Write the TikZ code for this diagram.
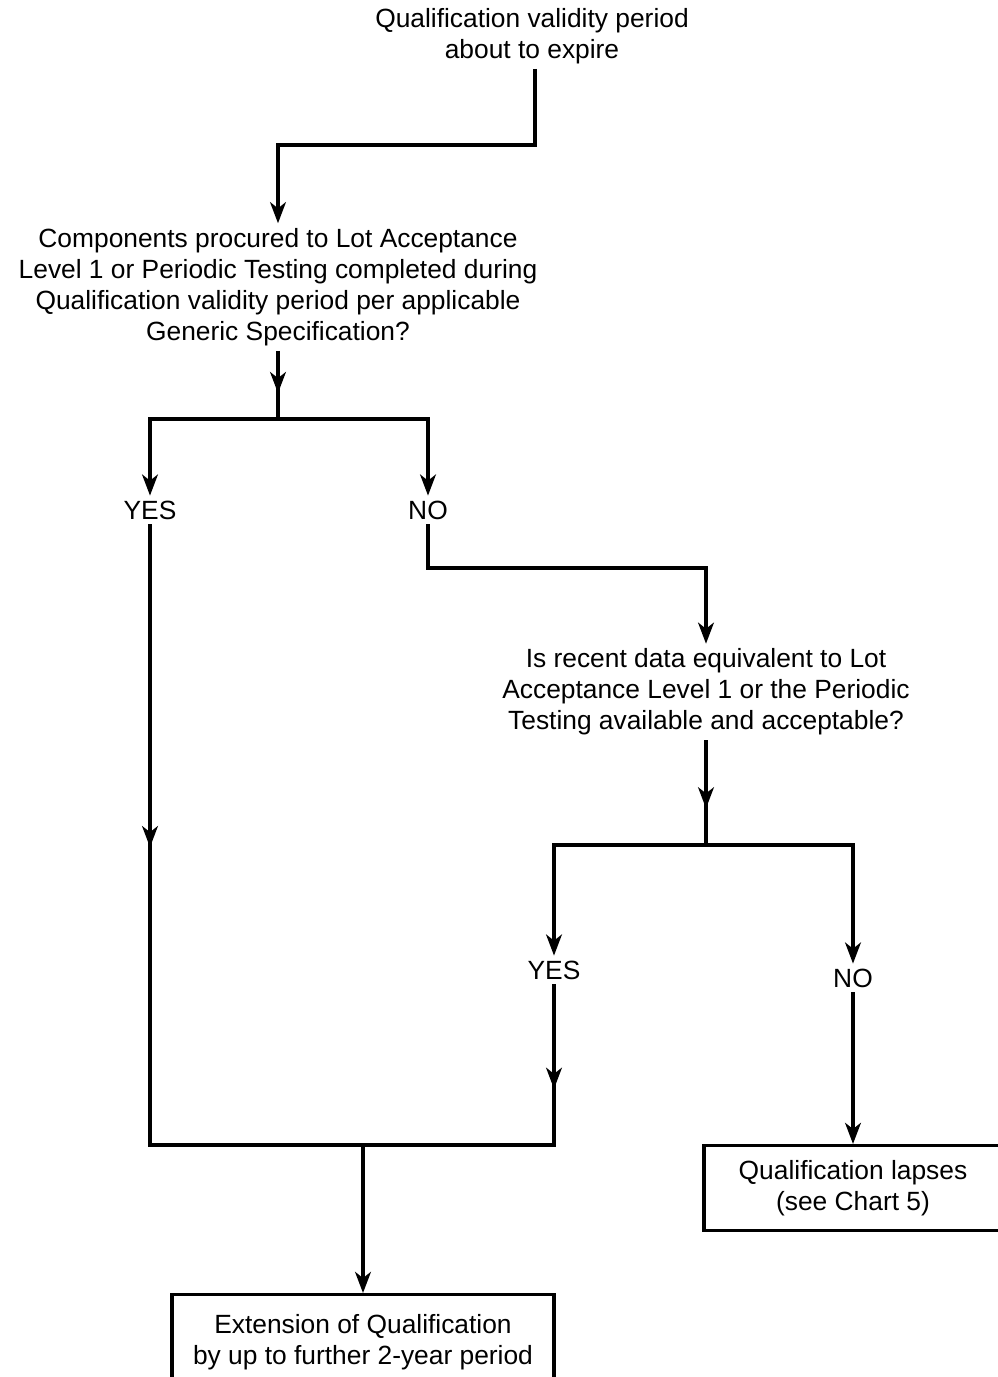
\documentclass[tikz,border=0pt]{standalone}
\usepackage{fontspec}
\setmainfont{Liberation Sans}
\usetikzlibrary{arrows.meta, positioning, decorations.markings}

\begin{document}
\begin{tikzpicture}[x=0.02cm, y=-0.02cm,
    line width=1.8pt,
    txt/.style={align=center, font=\fontsize{15}{17.6}\selectfont, inner sep=2pt},
    outcome/.style={txt, draw, minimum width=7.6cm, minimum height=1.7cm},
    arr/.style={-{Stealth[length=12pt, width=9pt, inset=3.5pt]}},
    midarr/.style={postaction={decorate}, decoration={markings,
        mark=at position #1 with {\arrow{Stealth[length=12pt, width=9pt, inset=3.5pt]}}}}]
    \clip (0,0) rectangle (998,1377);

    % question nodes
    \node[txt] (expire) at (532,36) {Qualification validity period\\about to expire};
    \node[txt] (procured) at (278,287) {Components procured to Lot Acceptance\\Level 1 or Periodic Testing completed during\\Qualification validity period per applicable\\Generic Specification?};
    \node[txt] (yesA) at (150,510) {YES};
    \node[txt] (noA) at (428,510) {NO};
    \node[txt] (recent) at (706,692) {Is recent data equivalent to Lot\\Acceptance Level 1 or the Periodic\\Testing available and acceptable?};
    \node[txt] (yesB) at (554,970) {YES};
    \node[txt] (noB) at (853,978) {NO};

    % outcome boxes
    \node[outcome, minimum width=5.96cm] (lapses) at (853,1188) {Qualification lapses\\(see Chart 5)};
    \node[outcome, anchor=north, minimum width=7.64cm, minimum height=1.9cm] (extension) at (363,1293) {Extension of Qualification\\by up to further 2-year period};

    % junctions
    \coordinate (bendA) at (278,145);
    \coordinate (splitA) at (278,419);
    \coordinate (bendB) at (706,568);
    \coordinate (splitB) at (706,845);
    \coordinate (joinL) at (150,1145);
    \coordinate (joinR) at (554,1145);
    \coordinate (joinM) at (363,1145);

    \draw[arr] (expire.south -| 535,0) |- (bendA) -- (procured.north);
    \draw[midarr=0.62] (procured.south) -- (splitA);
    \draw[arr] (splitA) -| (yesA.north);
    \draw[arr] (splitA) -| (noA.north);
    \draw[midarr=0.52] (yesA.south) -- (joinL);
    \draw[line cap=rect] (joinL) -- (joinR);
    \draw[arr] (noA.south) |- (bendB) -- (recent.north);
    \draw[midarr=0.65] (recent.south) -- (splitB);
    \draw[arr] (splitB) -| (yesB.north);
    \draw[arr] (splitB) -| (noB.north);
    \draw[midarr=0.65] (yesB.south) -- (joinR);
    \draw[arr] (noB.south) -- (lapses.north);
    \draw[arr] (joinM) -- (extension.north);
\end{tikzpicture}
\end{document}
